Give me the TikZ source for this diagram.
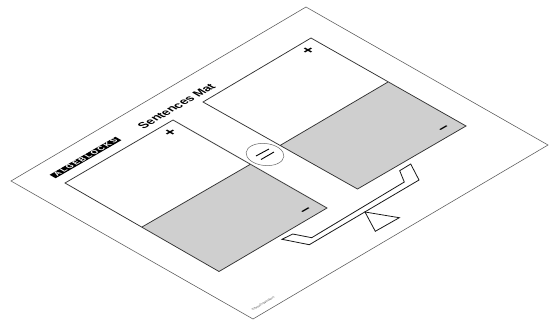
\documentclass[tikz,border=0pt]{standalone}
\usepackage{fontspec}
\usetikzlibrary{shapes.geometric}
\setmainfont{Liberation Sans}
\tikzset{
  x=1pt,y=-1pt,
  pageedge/.style={draw=black!65,line width=.55pt,line join=miter},
  matedge/.style={draw=black!80,line width=.75pt},
  shaded/.style={fill=black!19},
  scaleedge/.style={draw=black!90,line width=.8pt,fill=white,line join=miter},
  isotext/.style={transform shape,inner sep=0pt,outer sep=0pt},
  sign/.style={isotext,font=\bfseries\fontsize{16}{17}\selectfont},
  iso/.style={cm={.866,.5,-.866,.5,(0pt,0pt)}}
}
\begin{document}
\begin{tikzpicture}
\useasboundingbox (0,0) rectangle (550,322);
\fill[white] (0,0) rectangle (550,322);
% page
\coordinate (pt) at (306,7);
\coordinate (pr) at (548,145);
\coordinate (pb) at (253,319);
\coordinate (pl) at (11,181);
\draw[pageedge] (pt) -- (pr) -- (pb) -- (pl) -- cycle;
% right mat
\coordinate (rt) at (311,38);
\coordinate (rr) at (466,126);
\coordinate (rb) at (357.5,189);
\coordinate (rl) at (203,102);
\coordinate (rm1) at (388,82);
\coordinate (rm2) at (280,145.5);
\fill[shaded] (rm1) -- (rr) -- (rb) -- (rm2) -- cycle;
\draw[matedge] (rt) -- (rr) -- (rb) -- (rl) -- cycle (rm1) -- (rm2);
% left mat
\coordinate (lt) at (173,120);
\coordinate (lr) at (327,208);
\coordinate (lb) at (219,271.5);
\coordinate (ll) at (65,183);
\coordinate (lm1) at (250,164.5);
\coordinate (lm2) at (142,227);
\fill[shaded] (lm1) -- (lr) -- (lb) -- (lm2) -- cycle;
\draw[matedge] (lt) -- (lr) -- (lb) -- (ll) -- cycle (lm1) -- (lm2);
% equals
\node[draw=black!60,fill=white,line width=.5pt,ellipse,minimum width=38pt,minimum height=22pt,inner sep=0pt,rotate=-6] (eqc) at (265,154.5) {};
\coordinate (e1a) at (256,156); \coordinate (e1b) at (269,149);
\coordinate (e2a) at (261,159.5); \coordinate (e2b) at (274,152);
\draw[black,line width=.9pt] (e1a) -- (e1b) (e2a) -- (e2b);
% balance
\coordinate (b1) at (282,239.3); \coordinate (b2) at (292.7,234);
\coordinate (b3) at (311.7,237.7); \coordinate (b4) at (404.3,182);
\coordinate (b5) at (399.7,170.7); \coordinate (b6) at (410.7,164);
\coordinate (b7) at (419,180); \coordinate (b8) at (309.3,244.7);
\draw[scaleedge] (b1) -- (b2) -- (b3) -- (b4) -- (b5) -- (b6) -- (b7) -- (b8) -- cycle;
\coordinate (t1) at (365,212); \coordinate (t2) at (399.3,217.7); \coordinate (t3) at (375.3,231.3);
\draw[scaleedge] (t1) -- (t2) -- (t3) -- cycle;
% texts
\begin{scope}[shift={(176.5,106)},iso]
\node[isotext,font=\bfseries\fontsize{12}{14}\selectfont] (title) at (0,0) {Sentences Mat};
\end{scope}
\begin{scope}[shift={(85.5,157.5)},iso]
\node[isotext,fill=black,text=white,inner xsep=2.8pt,inner ysep=.6pt,font=\bfseries\fontsize{8}{9}\selectfont\addfontfeatures{LetterSpace=20}] (logo) at (0,0) {ALGEBLOCKS};
\end{scope}
\begin{scope}[shift={(170.5,132.5)},iso]
\node[sign] (lplus) at (0,0) {+};
\end{scope}
\begin{scope}[shift={(307,211)},iso]
\node[sign] (lminus) at (0,0) {–};
\end{scope}
\begin{scope}[shift={(308.5,50.5)},iso]
\node[sign] (rplus) at (0,0) {+};
\end{scope}
\begin{scope}[shift={(445,129)},iso]
\node[sign] (rminus) at (0,0) {–};
\end{scope}
\begin{scope}[shift={(263,303.5)},iso]
\node[isotext,text=black!75,font=\fontsize{3.4}{4}\selectfont] (copy) at (0,0) {©South-Western};
\end{scope}
\end{tikzpicture}
\end{document}
